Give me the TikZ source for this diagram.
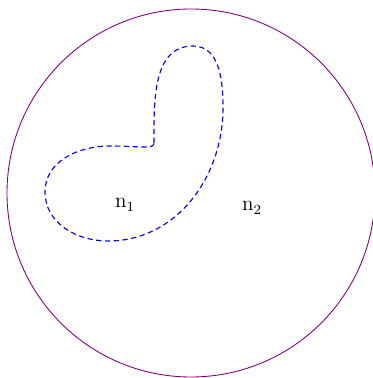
\documentclass[tikz,border=0pt]{standalone}
\usepackage{amsmath}
\usepackage{xcolor}
\usepackage{tikz}
\usetikzlibrary{calc}
\definecolor{regionpurple}{RGB}{128,0,128}

\begin{document}
\begin{tikzpicture}[
    outer/.style={draw=regionpurple, line width=0.5pt},
    inner/.style={draw=blue, line width=0.65pt, dash pattern=on 3pt off 2pt},
    lbl/.style={font=\large}]
    \useasboundingbox (0,0) rectangle (7.46,7.56);
    % Outer region
    \draw[outer] (3.82,3.70) circle (3.68);
    
    % Inner region
    \draw[inner] (3.08,4.70) to[out=90,in=180] (3.86,6.64)
        to[out=0,in=90] (4.46,5.40)
        to[out=-90,in=0] (2.16,2.74)
        to[out=180,in=-90] (0.90,3.72)
        to[out=90,in=180] (2.20,4.64)
        to[out=0,in=180] (2.95,4.62)
        to[out=0,in=-90] cycle;
    
    % Labels
    \node[lbl] (n1) at (2.50,3.46) {$\mathrm{n}_1$};
    \node[lbl] (n2) at (5.04,3.40) {$\mathrm{n}_2$};
\end{tikzpicture}
\end{document}
